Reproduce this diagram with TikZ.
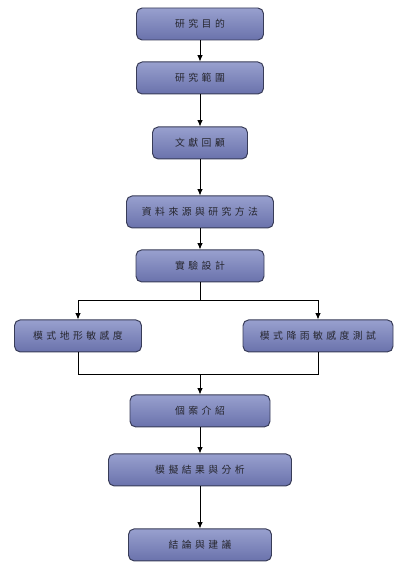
\documentclass[tikz,border=0pt]{standalone}
\usepackage{fontspec}
\usepackage{xcolor}
\usepackage{tikz}
\usetikzlibrary{arrows.meta,positioning,calc}
\newfontfamily\cjkfont[LetterSpace=35]{Noto Sans CJK TC}
\definecolor{FlowTop}{HTML}{98A0CE}
\definecolor{FlowMid}{HTML}{D6DAEE}
\definecolor{FlowBottom}{HTML}{6A72AC}
\definecolor{FlowEdge}{HTML}{383C58}
\definecolor{FlowText}{HTML}{26262E}

\begin{document}
\begin{tikzpicture}[
  every node/.style={font=\cjkfont\fontsize{7pt}{8pt}\selectfont, text=FlowText},
  stage/.style={draw=FlowEdge, line width=0.7pt, rounded corners=4pt,
    top color=FlowTop, middle color=FlowMid, bottom color=FlowBottom,
    minimum width=#1, minimum height=0.8cm, inner sep=0pt, align=center},
  arrow/.style={-{Latex[length=1.6mm,width=1.4mm]}, line width=0.6pt, color=black},
  link/.style={line width=0.6pt, color=black}
]
\useasboundingbox (0,0) rectangle (9.95,-14.175);

\node[stage=3.175cm] (aim) at (5,-0.6) {研究目的};
\node[stage=3.175cm, below=0.525cm of aim] (scope) {研究範圍};
\node[stage=2.375cm, below=0.8cm of scope] (review) {文獻回顧};
\node[stage=3.675cm, below=0.9cm of review] (method) {資料來源與研究方法};
\node[stage=3.2cm, below=0.525cm of method] (design) {實驗設計};

\node[stage=3.175cm, below=0.925cm of design, xshift=-3.05cm] (terrain) {模式地形敏感度};
\node[stage=3.75cm, below=0.925cm of design, xshift=2.95cm] (rain) {模式降雨敏感度測試};

\node[stage=3.5cm, below=2.8cm of design] (case) {個案介紹};
\node[stage=4.575cm, below=0.65cm of case] (result) {模擬結果與分析};
\node[stage=3.575cm, below=1.05cm of result] (summary) {結論與建議};

\draw[arrow] (aim) -- (scope);
\draw[arrow] (scope) -- (review);
\draw[arrow] (review) -- (method);
\draw[arrow] (method) -- (design);
\draw[link] (design.south) -- ++(0,-0.45) coordinate (split);
\draw[arrow] (split) -| (terrain.north);
\draw[arrow] (split) -| (rain.north);
\draw[link] (terrain.south) -- ++(0,-0.55) coordinate (join) -| (rain.south);
\draw[arrow] (join -| case.north) -- (case.north);
\draw[arrow] (case) -- (result);
\draw[arrow] (result) -- (summary);
\end{tikzpicture}
\end{document}
